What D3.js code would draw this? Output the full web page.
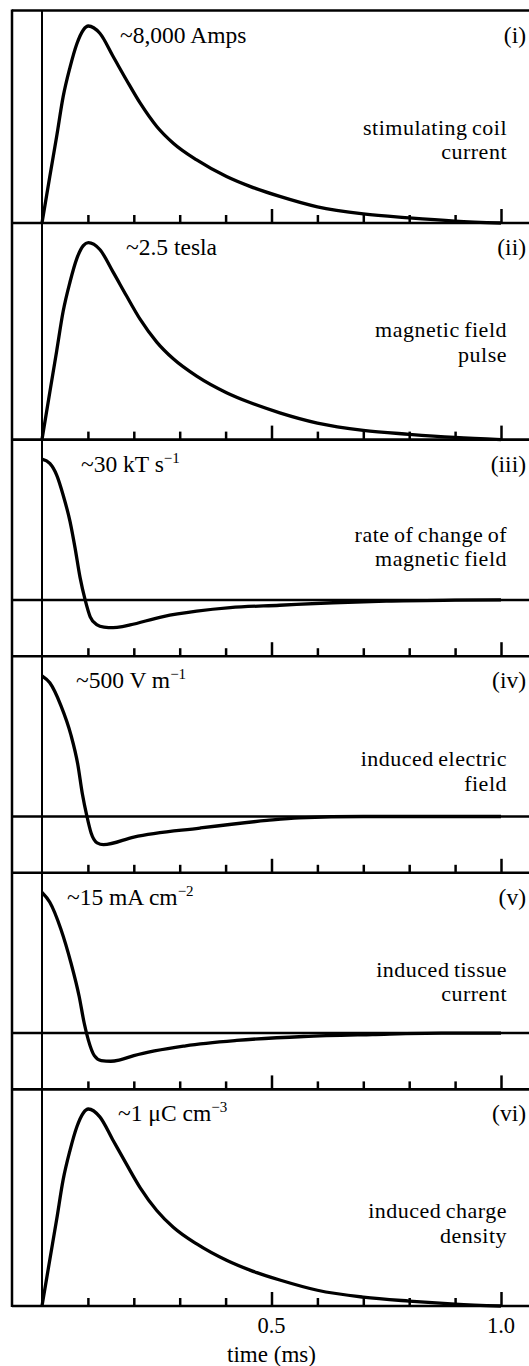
<!DOCTYPE html>
<html>
<head>
<meta charset="utf-8">
<script src="https://cdn.jsdelivr.net/npm/d3@7/dist/d3.min.js"></script>
<style>
  body { margin: 0; background: #fff; }
</style>
</head>
<body>
<svg id="chart"></svg>
<script>
// time axis (ms), ticks
var minorTicks = [0.1, 0.2, 0.3, 0.4, 0.6, 0.7, 0.8, 0.9];
var majorTicks = [0.5, 1.0];
var tickLabels = ["0.5", "1.0"];

// monophasic pulses: (i) coil current, (ii) magnetic field, (vi) charge density
var pulseTime = [0, 0.017, 0.032, 0.046, 0.061, 0.076, 0.09, 0.101, 0.126, 0.155, 0.184, 0.214, 0.25, 0.286, 0.337, 0.402, 0.453, 0.518, 0.6, 0.7, 0.8, 0.9, 1.0];
var coilCurrent   = [0, 0.236, 0.44, 0.64, 0.79, 0.91, 0.98, 1.0, 0.963, 0.845, 0.726, 0.608, 0.49, 0.405, 0.32, 0.236, 0.186, 0.135, 0.082, 0.046, 0.026, 0.01, 0];
var magneticField = [0, 0.24, 0.45, 0.65, 0.8, 0.92, 0.985, 1.0, 0.965, 0.85, 0.73, 0.61, 0.495, 0.41, 0.322, 0.238, 0.188, 0.136, 0.084, 0.047, 0.027, 0.011, 0];
var chargeDensity = [0, 0.235, 0.44, 0.64, 0.79, 0.91, 0.98, 1.0, 0.96, 0.84, 0.72, 0.6, 0.485, 0.4, 0.315, 0.232, 0.182, 0.132, 0.08, 0.045, 0.025, 0.01, 0];

// biphasic: (iii) dB/dt, (iv) induced E field, (v) tissue current
var dBdtTime = [0, 0.017, 0.032, 0.046, 0.061, 0.072, 0.083, 0.094, 0.105, 0.119, 0.135, 0.155, 0.175, 0.192, 0.264, 0.337, 0.41, 0.518, 0.634, 0.75, 0.9, 1.0];
var dBdt     = [1.0, 0.97, 0.887, 0.746, 0.558, 0.37, 0.158, 0, -0.12, -0.175, -0.193, -0.197, -0.19, -0.178, -0.118, -0.08, -0.055, -0.038, -0.02, -0.008, -0.002, 0];
var eFieldTime = [0, 0.017, 0.041, 0.063, 0.078, 0.088, 0.098, 0.107, 0.12, 0.134, 0.2, 0.344, 0.49, 0.56, 0.7, 1.0];
var eField     = [1.0, 0.95, 0.79, 0.58, 0.37, 0.16, 0, -0.117, -0.187, -0.2, -0.146, -0.082, -0.028, -0.01, 0, 0];
var tissueTime = [0, 0.017, 0.041, 0.063, 0.081, 0.092, 0.101, 0.114, 0.129, 0.15, 0.17, 0.2, 0.313, 0.424, 0.57, 0.72, 0.87, 1.0];
var tissueCurrent = [1.0, 0.93, 0.74, 0.5, 0.26, 0.07, -0.05, -0.16, -0.195, -0.2, -0.19, -0.16, -0.09, -0.052, -0.024, -0.01, 0, 0];

var numerals = ["(i)", "(ii)", "(iii)", "(iv)", "(v)", "(vi)"];
var peakText = ["~8,000 Amps", "~2.5 tesla", "~30 kT s", "~500 V m", "~15 mA cm", "~1 \u03bcC cm"];
var peakSup = ["", "", "\u22121", "\u22121", "\u22122", "\u22123"];
var descriptions = [
  ["stimulating coil", "current"],
  ["magnetic field", "pulse"],
  ["rate of change of", "magnetic field"],
  ["induced electric", "field"],
  ["induced tissue", "current"],
  ["induced charge", "density"]
];

var panels = [
  { t: pulseTime, v: coilCurrent, lo: 0 },
  { t: pulseTime, v: magneticField, lo: 0 },
  { t: dBdtTime, v: dBdt, lo: -0.4 },
  { t: eFieldTime, v: eField, lo: -0.4 },
  { t: tissueTime, v: tissueCurrent, lo: -0.4 },
  { t: pulseTime, v: chargeDensity, lo: 0 }
];

// layout
var W = 529, H = 1366;
var left = 12, top0 = 10.5;
var firstBase = 223, step = 216.6, amp = 197;
var labelX = [120, 126, 81, 76, 67, 118];
var descY = [124, 114, 102, 110, 104, 129];
var serif = "'Liberation Serif', 'Times New Roman', Times, 'DejaVu Serif', serif";

var svg = d3.select("#chart").attr("width", W).attr("height", H)
  .attr("font-family", serif);

var x = d3.scaleLinear().domain([0, 1]).range([42, 501]);

var baselines = panels.map(function (p, i) { return firstBase + i * step; });
var bottom = baselines[baselines.length - 1];

// frame: top line, left border, t=0 line
svg.append("line").attr("x1", left).attr("x2", W).attr("y1", top0).attr("y2", top0)
  .attr("stroke", "#000").attr("stroke-width", 2.5);
svg.append("line").attr("x1", left).attr("x2", left).attr("y1", top0 - 1).attr("y2", bottom + 1)
  .attr("stroke", "#000").attr("stroke-width", 2.5);
svg.append("line").attr("x1", x(0)).attr("x2", x(0)).attr("y1", top0).attr("y2", bottom)
  .attr("stroke", "#000").attr("stroke-width", 2);

var line = d3.line().curve(d3.curveMonotoneX);

panels.forEach(function (p, i) {
  var base = baselines[i];
  var ptop = i === 0 ? top0 : baselines[i - 1];
  var y = d3.scaleLinear().domain([p.lo, 1]).range([base, base - amp]);
  var g = svg.append("g");

  // baseline
  g.append("line").attr("x1", left).attr("x2", W).attr("y1", base).attr("y2", base)
    .attr("stroke", "#000").attr("stroke-width", 2.6);

  // ticks pointing up
  var minor = g.append("g").attr("transform", "translate(0," + base + ")")
    .call(d3.axisTop(x).tickValues(minorTicks).tickSize(8).tickSizeOuter(0).tickFormat(""));
  var major = g.append("g").attr("transform", "translate(0," + base + ")")
    .call(d3.axisTop(x).tickValues(majorTicks).tickSize(14).tickSizeOuter(0).tickFormat(""));
  [minor, major].forEach(function (a) {
    a.select(".domain").remove();
    a.selectAll(".tick line").attr("stroke", "#000").attr("stroke-width", 2.5);
  });

  // zero line for biphasic panels
  if (p.lo < 0) {
    g.append("line").attr("x1", left).attr("x2", W).attr("y1", y(0)).attr("y2", y(0))
      .attr("stroke", "#000").attr("stroke-width", 2.5);
  }

  // waveform
  var pts = p.t.map(function (t, k) { return [x(t), y(p.v[k])]; });
  g.append("path").attr("d", line(pts))
    .attr("fill", "none").attr("stroke", "#000").attr("stroke-width", 3.3)
    .attr("stroke-linejoin", "round");

  // numeral
  g.append("text").attr("x", 526).attr("y", ptop + 32).attr("text-anchor", "end")
    .attr("font-family", serif).attr("font-size", 23.5).text(numerals[i]);

  // peak value label
  var pl = g.append("text").attr("x", labelX[i]).attr("y", ptop + 32)
    .attr("font-family", serif).attr("font-size", 23.5);
  pl.append("tspan").text(peakText[i]);
  if (peakSup[i]) {
    pl.append("tspan").attr("dy", -9).attr("font-size", 15).text(peakSup[i]);
  }

  // description, two lines
  g.selectAll("text.desc").data(descriptions[i]).enter().append("text")
    .attr("class", "desc")
    .attr("x", 507)
    .attr("y", function (d, k) { return ptop + descY[i] + k * 24.6; })
    .attr("text-anchor", "end")
    .attr("font-family", serif)
    .attr("font-size", 22)
    .attr("letter-spacing", 0.5)
    .attr("word-spacing", -1.5)
    .text(function (d) { return d; });
});

// tick labels and axis title
svg.selectAll("text.tl").data(majorTicks).enter().append("text")
  .attr("class", "tl")
  .attr("x", function (d) { return x(d); })
  .attr("y", bottom + 27)
  .attr("text-anchor", "middle")
  .attr("font-family", serif)
  .attr("font-size", 22.5)
  .text(function (d, i) { return tickLabels[i]; });

svg.append("text").attr("x", x(0.5)).attr("y", bottom + 56)
  .attr("text-anchor", "middle").attr("font-family", serif).attr("font-size", 23)
  .text("time (ms)");
</script>
</body>
</html>
